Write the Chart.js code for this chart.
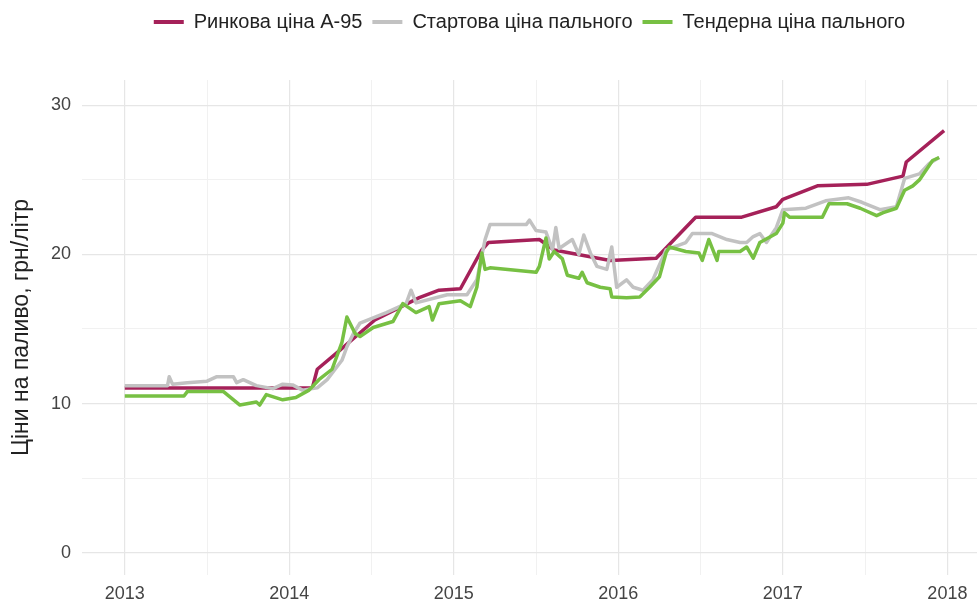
<!DOCTYPE html>
<html>
<head>
<meta charset="utf-8">
<script src="https://cdn.jsdelivr.net/npm/chart.js@4"></script>
<style>
  html, body { margin: 0; padding: 0; background: #fff; }
  #wrap { width: 977px; height: 606px; }
</style>
</head>
<body>
<div id="wrap"><canvas id="fuelChart"></canvas></div>
<script>
// ================= DATA =================
const seriesNames = ['Ринкова ціна А-95', 'Стартова ціна пального', 'Тендерна ціна пального']
const yearTicks = [2013, 2014, 2015, 2016, 2017, 2018]

// market price A-95
const marketX = [2013.00, 2014.14, 2014.17, 2014.31, 2014.52, 2014.79, 2014.91, 2015.04, 2015.17, 2015.21,
  2015.52, 2015.61, 2015.95, 2016.23, 2016.47, 2016.75, 2016.96, 2017.00, 2017.21, 2017.51, 2017.73, 2017.75, 2017.98]
const marketY = [11.05, 11.05, 12.3, 13.6, 15.6, 17.1, 17.6, 17.7, 20.3, 20.8,
  21.0, 20.3, 19.6, 19.75, 22.5, 22.5, 23.2, 23.7, 24.6, 24.7, 25.25, 26.2, 28.3]

// start price
const startX = [2013.00, 2013.26, 2013.27, 2013.29, 2013.38, 2013.50, 2013.56, 2013.62, 2013.66, 2013.68, 2013.72,
  2013.80, 2013.90, 2013.96, 2014.02, 2014.08, 2014.17, 2014.23, 2014.32, 2014.35, 2014.39, 2014.43, 2014.59,
  2014.71, 2014.74, 2014.77, 2014.96, 2015.08, 2015.14, 2015.19, 2015.22, 2015.44, 2015.46, 2015.50, 2015.56,
  2015.60, 2015.62, 2015.64, 2015.72, 2015.76, 2015.79, 2015.83, 2015.87, 2015.93, 2015.96, 2015.99, 2016.05,
  2016.09, 2016.15, 2016.21, 2016.29, 2016.41, 2016.45, 2016.57, 2016.66, 2016.74, 2016.78, 2016.82, 2016.86,
  2016.90, 2016.96, 2017.00, 2017.14, 2017.26, 2017.40, 2017.48, 2017.59, 2017.69, 2017.74, 2017.83, 2017.89, 2017.95]
const startY = [11.2, 11.2, 11.8, 11.3, 11.4, 11.5, 11.8, 11.8, 11.8, 11.4, 11.6,
  11.2, 11.0, 11.3, 11.25, 10.9, 11.05, 11.6, 12.9, 13.8, 14.7, 15.4, 16.1,
  16.7, 17.6, 16.75, 17.3, 17.3, 18.3, 21.0, 22.0, 22.0, 22.3, 21.6, 21.5,
  20.3, 21.8, 20.4, 21.0, 20.0, 21.3, 20.1, 19.2, 19.0, 20.5, 17.8, 18.3,
  17.8, 17.6, 18.3, 20.3, 20.8, 21.4, 21.4, 21.0, 20.8, 20.8, 21.2, 21.4,
  20.8, 21.8, 23.0, 23.1, 23.6, 23.8, 23.5, 23.0, 23.2, 25.1, 25.4, 26.1, 26.5]

// tender price
const tenderX = [2013.00, 2013.36, 2013.38, 2013.60, 2013.70, 2013.80, 2013.82, 2013.86, 2013.96, 2014.04, 2014.12,
  2014.18, 2014.26, 2014.32, 2014.35, 2014.40, 2014.43, 2014.51, 2014.63, 2014.69, 2014.77, 2014.85, 2014.87,
  2014.91, 2015.04, 2015.10, 2015.14, 2015.17, 2015.19, 2015.22, 2015.50, 2015.52, 2015.56, 2015.58, 2015.61,
  2015.66, 2015.69, 2015.76, 2015.78, 2015.81, 2015.89, 2015.95, 2015.96, 2016.05, 2016.13, 2016.19, 2016.25,
  2016.29, 2016.31, 2016.41, 2016.49, 2016.51, 2016.55, 2016.60, 2016.61, 2016.74, 2016.78, 2016.82, 2016.86,
  2016.96, 2017.00, 2017.01, 2017.04, 2017.24, 2017.28, 2017.39, 2017.47, 2017.57, 2017.61, 2017.69, 2017.74,
  2017.79, 2017.83, 2017.87, 2017.91, 2017.95]
const tenderY = [10.5, 10.5, 10.8, 10.8, 9.9, 10.1, 9.9, 10.6, 10.25, 10.4, 10.9,
  11.6, 12.3, 14.1, 15.8, 14.7, 14.5, 15.1, 15.5, 16.7, 16.1, 16.5, 15.6,
  16.7, 16.9, 16.5, 17.8, 20.1, 19.0, 19.1, 18.8, 19.2, 21.1, 19.7, 20.2,
  19.7, 18.6, 18.4, 18.8, 18.1, 17.8, 17.7, 17.15, 17.1, 17.15, 17.8, 18.5,
  20.1, 20.5, 20.2, 20.1, 19.6, 21.0, 19.6, 20.2, 20.2, 20.5, 19.75, 20.8,
  21.4, 22.1, 22.8, 22.5, 22.5, 23.4, 23.4, 23.1, 22.6, 22.8, 23.1, 24.3,
  24.6, 25.0, 25.65, 26.3, 26.5]

const colors = ['#a52159', '#c2c2c2', '#77c043']

const toPoints = (xs, ys) => xs.map((x, i) => ({ x: x, y: ys[i] }))

// ================= CHART =================
const font = 'Liberation Sans, Arial, sans-serif'

const legendHeight = {
  id: 'legendHeight',
  beforeInit(chart) {
    const fit = chart.legend.fit
    chart.legend.fit = function () {
      fit.call(this)
      this.height = 78
    }
  }
}

const line = (label, pts, color, order) => ({
  label: label,
  data: pts,
  borderColor: color,
  backgroundColor: color,
  borderWidth: 3.5,
  pointRadius: 0,
  tension: 0,
  borderJoinStyle: 'round',
  order: order
})

new Chart(document.getElementById('fuelChart'), {
  type: 'line',
  data: {
    datasets: [
      line(seriesNames[0], toPoints(marketX, marketY), colors[0], 3),
      line(seriesNames[1], toPoints(startX, startY), colors[1], 2),
      line(seriesNames[2], toPoints(tenderX, tenderY), colors[2], 1)
    ]
  },
  options: {
    responsive: true,
    maintainAspectRatio: false,
    animation: false,
    layout: { padding: { top: 2, left: 0, right: 0, bottom: 0 } },
    plugins: {
      tooltip: { enabled: false },
      legend: {
        position: 'top',
        fullSize: false,
        labels: {
          boxWidth: 30,
          boxHeight: 4,
          padding: 10,
          color: '#222',
          font: { family: font, size: 20 },
          sort: (a, b) => a.datasetIndex - b.datasetIndex,
          generateLabels: chart =>
            Chart.defaults.plugins.legend.labels.generateLabels(chart).map(l => ({
              ...l, lineWidth: 0, fillStyle: l.strokeStyle
            }))
        }
      }
    },
    scales: {
      x: {
        type: 'linear',
        min: 2012.74,
        max: 2018.18,
        afterBuildTicks: scale => {
          const t = []
          for (let v = yearTicks[0]; v <= yearTicks[yearTicks.length - 1]; v += 0.5) t.push({ value: v })
          scale.ticks = t
        },
        afterFit: scale => { scale.height = 31 },
        border: { display: false },
        grid: {
          drawTicks: false,
          color: c => Number.isInteger(c.tick.value) ? '#e6e6e6' : '#f1f1f1',
          lineWidth: c => Number.isInteger(c.tick.value) ? 1.2 : 1
        },
        ticks: {
          padding: 8,
          color: '#444',
          font: { family: font, size: 18 },
          maxRotation: 0,
          autoSkip: false,
          callback: v => yearTicks.includes(v) ? String(v) : ''
        }
      },
      y: {
        min: -1.5,
        max: 31.7,
        afterBuildTicks: scale => {
          scale.ticks = [0, 5, 10, 15, 20, 25, 30].map(v => ({ value: v }))
        },
        afterFit: scale => { scale.width = 82 },
        border: { display: false },
        grid: {
          drawTicks: false,
          color: c => c.tick.value % 10 === 0 ? '#e6e6e6' : '#f1f1f1',
          lineWidth: c => c.tick.value % 10 === 0 ? 1.2 : 1
        },
        ticks: {
          padding: 11,
          color: '#444',
          font: { family: font, size: 18 },
          callback: v => v % 10 === 0 ? String(v) : ''
        },
        title: {
          display: true,
          text: 'Ціни на паливо, грн/літр',
          color: '#222',
          font: { family: font, size: 23 },
          padding: { top: 8, bottom: 0 }
        }
      }
    }
  },
  plugins: [legendHeight]
})
</script>
</body>
</html>
